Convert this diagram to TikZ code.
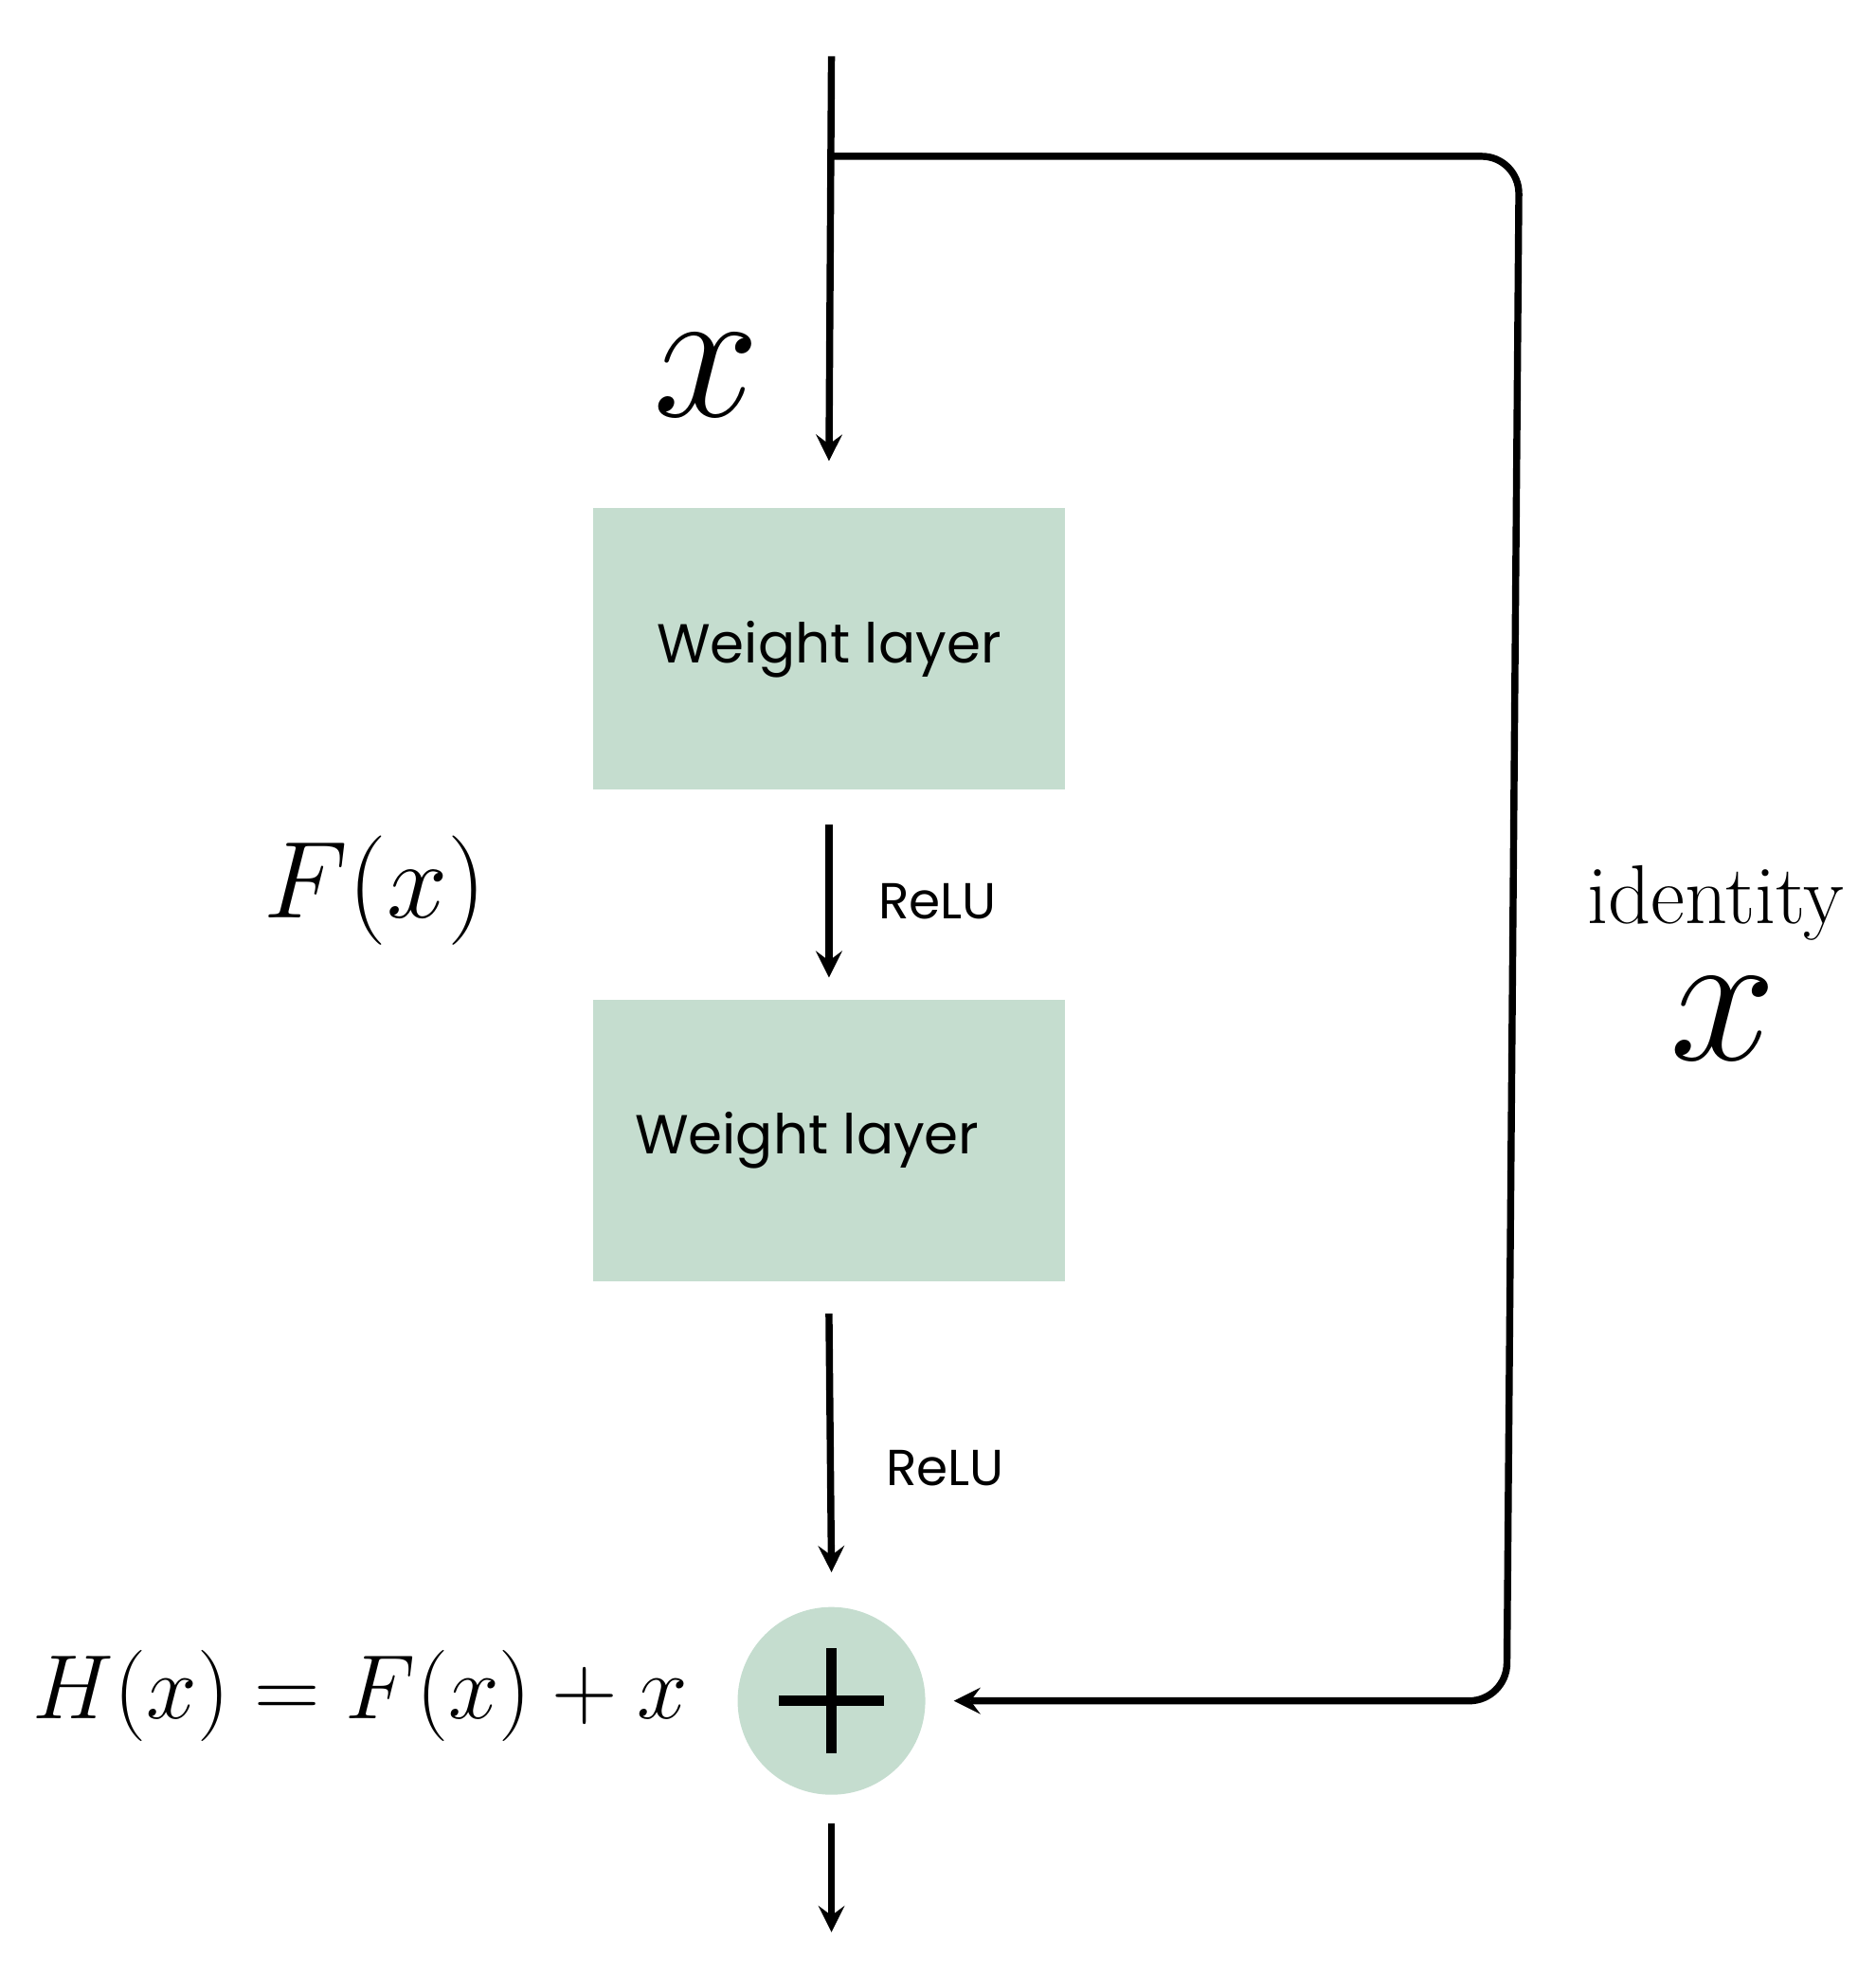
\documentclass[tikz,border=0pt]{standalone}
\usepackage{amsmath}
\usepackage{fontspec}
\newfontfamily\labelfont{Poppins}
\usetikzlibrary{positioning}
\definecolor{layergreen}{HTML}{C5DDCF}
\begin{document}
\begin{tikzpicture}[x=0.01cm,y=-0.01cm,
		line width=1.6pt,
		layer/.style={fill=layergreen,minimum width=3.77cm,minimum height=2.25cm,font=\labelfont\fontsize{12.5}{15}\selectfont},
		act/.style={font=\labelfont\fontsize{11.5}{14}\selectfont},
		flow/.style={->,>=stealth}]
	\useasboundingbox (0,0) rectangle (1500,1580);
	\coordinate (in) at (665,45);
	\coordinate (split) at (665,125);
	\node[layer] (w1) at (663,519) {Weight layer};
	\node[layer] (w2) at (663,912) {\hspace*{-0.35cm}Weight layer};
	\node[circle,fill=layergreen,minimum size=1.5cm,inner sep=0pt] (add) at (665,1360) {};
	\draw[line width=2.4pt] ([xshift=-0.42cm]add.center) -- ([xshift=0.42cm]add.center)
		([yshift=-0.42cm]add.center) -- ([yshift=0.42cm]add.center);
	\coordinate (out) at (665,1545);
	% main path
	\draw[flow] (in) -- ([yshift=0.35cm]w1.north);
	\draw[flow] ([yshift=-0.25cm]w1.south) -- node[act,right=0.25cm] {ReLU} ([yshift=0.15cm]w2.north);
	\draw[flow] ([yshift=-0.23cm]w2.south) -- node[act,right=0.3cm,yshift=-0.2cm] {ReLU} ([yshift=0.25cm]add.north);
	\draw[flow] ([yshift=-0.2cm]add.south) -- (out);
	% shortcut
	\draw[flow,rounded corners=0.3cm] (split) -- (1215,125) -- (1205,1360) -- ([xshift=0.2cm]add.east);
	% labels
	\node[scale=1.75] at (565,300) {\fontsize{24.88}{28}\selectfont$x$};
	\node at (300,712) {\fontsize{26}{30}\selectfont$F(x)$};
	\node[anchor=east] at (565,1356) {\fontsize{21.5}{26}\selectfont$H(x)=F(x)+x$};
	\node at (1372,722) {\fontsize{19}{22}\selectfont identity};
	\node[scale=1.75] at (1378,815) {\fontsize{24.88}{28}\selectfont$x$};
\end{tikzpicture}
\end{document}
